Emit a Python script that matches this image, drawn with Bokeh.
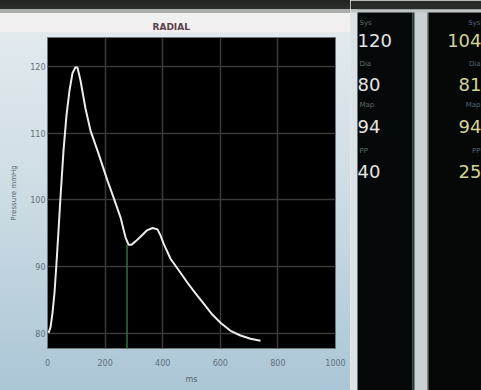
from bokeh.plotting import figure
from bokeh.models import Range1d, FixedTicker
from bokeh.core.properties import value
from bokeh.embed import file_html
from bokeh.resources import INLINE

# ---------------- data ----------------
title_text = "RADIAL"
time_ms = [3.5, 10.4, 17.4, 24.3, 31.3, 38.2, 45.1, 55.6, 66.0, 76.4, 86.8, 97.2,
           104.2, 114.6, 131.9, 149.3, 173.6, 194.4, 208.3, 229.2, 253.5, 270.8,
           281.3, 291.7, 305.6, 322.9, 343.8, 364.6, 381.9, 392.4, 402.8, 427.1,
           461.8, 486.1, 513.9, 541.7, 572.9, 600.7, 635.4, 670.1, 704.9, 739.6]
pressure_mmhg = [80.1, 80.9, 83.1, 86.1, 90.6, 95.4, 100.4, 107.4, 112.7, 116.4, 119.0, 119.9,
                 119.8, 117.9, 113.7, 110.4, 107.4, 104.7, 102.9, 100.4, 97.4, 94.4,
                 93.3, 93.3, 93.8, 94.5, 95.4, 95.8, 95.6, 94.7, 93.5, 91.2,
                 89.1, 87.6, 86.0, 84.5, 82.8, 81.6, 80.4, 79.7, 79.2, 78.9]
notch_t = 276
notch_p = 93.3
x_ticks = [0, 200, 400, 600, 800, 1000]
y_ticks = [80, 90, 100, 110, 120]
x_label = "ms"
y_label = "Pressure mmHg"

panel_labels = ["Sys", "Dia", "Map", "PP"]
panel1_values = ["120", "80", "94", "40"]
panel2_values = ["104", "81", "94", "25"]

# ---------------- main waveform plot ----------------
y_lo, y_hi = 77.75, 124.34
p = figure(width=350, height=390, x_range=Range1d(0, 1000), y_range=Range1d(y_lo, y_hi),
           output_backend="svg", toolbar_location=None,
           min_border_left=47, min_border_right=15, min_border_top=37, min_border_bottom=42)
p.background_fill_color = "#000000"
p.border_fill_color = None
p.styles = {"position": "absolute", "left": "0px", "top": "0px",
            "background": "linear-gradient(to bottom, #1f241f 0px, #2b302c 9px, #a9aeaa 9px, #a9aeaa 13px, "
                          "#eff1f0 13px, #f3eef0 32px, #e2eaee 32px, #cddce4 50%, #abc6d6 100%)"}

p.title.text = title_text
p.title.align = "left"
p.title.offset = 105
p.title.standoff = 12
p.title.text_font = "DejaVu Sans"
p.title.text_font_size = "9px"
p.title.text_font_style = "bold"
p.title.text_color = "#5a3d4c"

p.xaxis.ticker = FixedTicker(ticks=x_ticks)
p.yaxis.ticker = FixedTicker(ticks=y_ticks)
p.axis.axis_line_color = None
p.axis.major_tick_line_color = None
p.axis.minor_tick_line_color = None
p.axis.major_tick_out = 0
p.axis.major_tick_in = 0
p.axis.minor_tick_out = 0
p.axis.minor_tick_in = 0
p.axis.major_label_text_font = "DejaVu Sans"
p.axis.major_label_text_font_size = "8px"
p.axis.major_label_text_color = "#5f6f7d"
p.xaxis.major_label_standoff = 10
p.yaxis.major_label_standoff = 2
p.xaxis.axis_label = x_label
p.yaxis.axis_label = y_label
p.axis.axis_label_text_font = "DejaVu Sans"
p.axis.axis_label_text_font_style = "normal"
p.axis.axis_label_text_color = "#55626e"
p.xaxis.axis_label_text_font_size = "8px"
p.yaxis.axis_label_text_font_size = "7px"
p.xaxis.axis_label_standoff = 6
p.yaxis.axis_label_standoff = 9

p.grid.grid_line_color = "#3a3a3a"
p.grid.grid_line_width = 1.5
p.outline_line_color = "#6b7680"
p.outline_line_width = 1

p.segment(x0=[notch_t], y0=[y_lo], x1=[notch_t], y1=[notch_p], line_color="#2f7040", line_width=1.5)
p.line(time_ms, pressure_mmhg, line_color="#ececec", line_width=2)

# ---------------- numeric side panels ----------------
q = figure(width=131, height=390, x_range=Range1d(350, 481), y_range=Range1d(390, 0),
           output_backend="svg", toolbar_location=None, min_border=0,
           x_axis_type=None, y_axis_type=None)
q.styles = {"position": "absolute", "left": "350px", "top": "0px"}
q.grid.visible = False
q.outline_line_color = None
q.background_fill_color = "#c9d1d3"
q.border_fill_color = "#c9d1d3"

q.quad(left=[350, 350, 350, 357, 412, 427, 428], right=[481, 357, 481, 412, 414, 428, 481],
       top=[0, 9, 9, 12, 12, 12, 12], bottom=[9, 390, 12, 390, 390, 390, 390],
       fill_color=["#262b27", "#dce3e7", "#bfc5c5", "#060909", "#2c3436", "#3a4244", "#060808"],
       line_color=None)

label_y = [22, 63, 104, 150]
value_y = [40, 84, 126, 171]

q.text(x=[359] * 4, y=label_y, text=panel_labels, text_font=value("DejaVu Sans"),
       text_font_size="7px", text_color="#5d6e6c", text_align="left", text_baseline="middle")
q.text(x=[357] * 4, y=value_y, text=panel1_values, text_font=value("DejaVu Sans"),
       text_font_size="18px", text_color="#e4e4e4", text_align="left", text_baseline="middle")
q.text(x=[480] * 4, y=label_y, text=panel_labels, text_font=value("DejaVu Sans"),
       text_font_size="7px", text_color="#4f6678", text_align="right", text_baseline="middle")
q.text(x=[481] * 4, y=value_y, text=panel2_values, text_font=value("DejaVu Sans"),
       text_font_size="18px", text_color="#d2d29a", text_align="right", text_baseline="middle")

open("out.html", "w").write(file_html([p, q], INLINE))
